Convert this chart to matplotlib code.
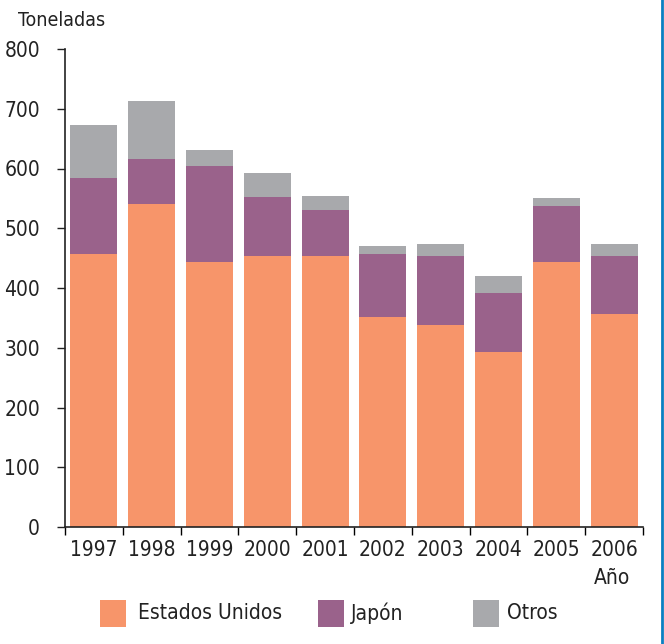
import matplotlib
matplotlib.use("Agg")
import matplotlib.pyplot as plt
from matplotlib.patches import Rectangle
from matplotlib.lines import Line2D
import numpy as np

plt.rcParams['font.family'] = ['DejaVu Sans']
plt.rcParams['font.stretch'] = 'condensed'

years = ['1997', '1998', '1999', '2000', '2001', '2002', '2003', '2004', '2005', '2006']
estados_unidos = [457, 540, 443, 453, 453, 351, 338, 293, 443, 356]
japon = [127, 76, 161, 99, 77, 106, 116, 99, 94, 98]
otros = [89, 97, 27, 40, 24, 13, 20, 28, 14, 20]
series_names = ['Estados Unidos', 'Japón', 'Otros']
colors = ['#F7956A', '#9A628B', '#A8A9AC']

fig = plt.figure(figsize=(6.64, 6.44), dpi=100)
ax = fig.add_axes([65/664, 1-527/644, (643-65)/664, (527-49)/644])

x = np.arange(len(years))
us = np.array(estados_unidos)
jp = np.array(japon)
ot = np.array(otros)
w = 0.81
ax.bar(x, us, width=w, color=colors[0], edgecolor='none')
ax.bar(x, jp, width=w, bottom=us, color=colors[1], edgecolor='none')
ax.bar(x, ot, width=w, bottom=us+jp, color=colors[2], edgecolor='none')

ax.set_xlim(-0.5, len(years)-0.5)
ax.set_ylim(0, 800)
ax.set_yticks(range(0, 801, 100))
ax.tick_params(axis='y', labelsize=15, length=6, width=1, direction='out', pad=12)
ax.set_xticks(x)
ax.set_xticklabels(years)
ax.set_xticks(np.arange(-0.5, len(years), 1), minor=True)
ax.tick_params(axis='x', which='major', length=0, labelsize=15, pad=9)
ax.tick_params(axis='x', which='minor', length=6, width=1, direction='out')
for s in ['top', 'right']:
    ax.spines[s].set_visible(False)
for s in ['left', 'bottom']:
    ax.spines[s].set_linewidth(1.2)
    ax.spines[s].set_color('#222222')
ax.tick_params(colors='#222222')

fig.text(18/664, 1-20/644, 'Toneladas', fontsize=14, va='center', ha='left', color='#222222')
fig.text(630/664, 1-578/644, 'Año', fontsize=15, va='center', ha='right', color='#222222')

leg_x = [100, 318, 473]
txt_x = [138, 351, 507]
for lx, tx, name, c in zip(leg_x, txt_x, series_names, colors):
    fig.add_artist(Rectangle((lx/664, 1-627/644), 26/664, 27/644, transform=fig.transFigure,
                             facecolor=c, edgecolor='none'))
    fig.text(tx/664, 1-613/644, name, fontsize=15, va='center', ha='left', color='#222222')

fig.add_artist(Line2D([662/664, 662/664], [0, 1], transform=fig.transFigure, color='#0A7FC1', linewidth=2))

fig.savefig('out.png', dpi=100)
